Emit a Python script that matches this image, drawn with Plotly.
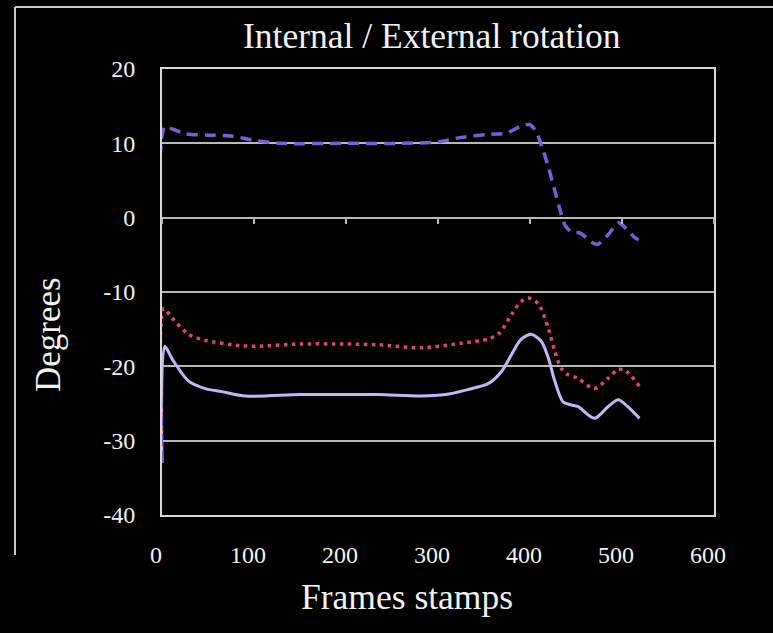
import plotly.graph_objects as go

# values (frame, degrees)
dashed_frames = [0, 3, 10, 25, 50, 75, 100, 130, 200, 260, 300, 325, 355, 375, 390, 400,
                 407, 413, 420, 427, 433, 438, 445, 455, 467, 473, 485, 496, 503, 514, 518]
dashed_deg = [-33, 12.2, 12.0, 11.3, 11.1, 11.0, 10.4, 10.0, 10.0, 10.0, 10.2, 10.8, 11.2, 11.4, 12.3, 12.5,
              11.5, 9.5, 6.8, 3.6, 0.9, -1.0, -1.9, -2.1, -3.3, -3.6, -2.3, -0.7, -1.3, -2.7, -3.0]

dotted_frames = [0, 2, 11, 29, 47, 83, 102, 150, 200, 235, 282, 325, 355, 367, 380, 390, 398,
                 409, 420, 427, 434, 441, 452, 470, 485, 496, 504, 519]
dotted_deg = [-33, -12.2, -13.5, -15.7, -16.5, -17.2, -17.3, -17.0, -17.0, -17.1, -17.5, -16.9, -16.3,
              -15.5, -13.0, -11.3, -10.8, -11.6, -14.9, -18.0, -20.3, -21.1, -21.6, -23.0, -21.6, -20.4,
              -20.6, -22.7]

solid_frames = [0, 3, 11, 29, 47, 65, 91, 150, 200, 235, 282, 308, 330, 355, 369, 380, 390, 401,
                412, 420, 427, 436, 445, 452, 470, 485, 496, 506, 519]
solid_deg = [-33, -17.3, -19.0, -22.0, -23.0, -23.4, -24.0, -23.8, -23.8, -23.8, -24.0, -23.8, -23.2,
             -22.3, -20.7, -18.4, -16.4, -15.7, -16.6, -18.9, -22.0, -24.8, -25.2, -25.4, -27.0, -25.4,
             -24.5, -25.4, -27.0]

x_ticks = [0, 100, 200, 300, 400, 500, 600]
y_ticks = [-40, -30, -20, -10, 0, 10, 20]
y_tick_text = ["-40", "-30", "-20", "-10", "0", "10", "20"]

FONT = "Liberation Serif, Times New Roman, serif"
TEXT = "#f2f2f2"
GRID = "#b8b8b8"

# plot area in pixels
L, R, T, B = 162, 714, 69, 515
pw, ph = R - L, B - T


def px(x):
    return (x - L) / pw


def py(y):
    return (B - y) / ph


fig = go.Figure()

fig.add_trace(go.Scatter(
    x=solid_frames, y=solid_deg, mode="lines",
    line=dict(color="#c4b5f0", width=3, shape="spline", smoothing=0.8),
))
fig.add_trace(go.Scatter(
    x=dotted_frames, y=dotted_deg, mode="lines",
    line=dict(color="#d9467a", width=3.5, dash="3.5px,4.5px", shape="spline", smoothing=0.8),
))
fig.add_trace(go.Scatter(
    x=dashed_frames, y=dashed_deg, mode="lines",
    line=dict(color="#7a5ed2", width=3.5, dash="11px,7px", shape="spline", smoothing=0.8),
))
# invisible trace on the overlaid axis that carries the ticks on the zero line
fig.add_trace(go.Scatter(x=[0, 600], y=[0, 0], xaxis="x2", mode="lines",
                         line=dict(width=0), hoverinfo="skip"))

fig.update_layout(
    width=773, height=633,
    paper_bgcolor="black", plot_bgcolor="black",
    showlegend=False,
    margin=dict(l=L, r=773 - R, t=T, b=633 - B),
    font=dict(family=FONT, color=TEXT),
    xaxis=dict(
        range=[0, 600], tickvals=x_ticks, showgrid=False, zeroline=False,
        showline=True, linecolor="#d8d8d8", linewidth=2, mirror=True,
        ticks="", tickfont=dict(size=24, color=TEXT),
        ticklabelstandoff=17, ticklabelshift=-6,
    ),
    xaxis2=dict(
        range=[0, 600], tickvals=x_ticks, overlaying="x", anchor="free",
        position=40 / 60, side="bottom", showgrid=False, zeroline=False,
        showline=False, ticks="outside", ticklen=5, tickwidth=1.5,
        tickcolor=GRID, showticklabels=False,
    ),
    yaxis=dict(
        range=[-40, 20], tickvals=y_ticks, ticktext=y_tick_text,
        showgrid=True, gridcolor=GRID, gridwidth=1.5, zeroline=False,
        showline=True, linecolor="#d8d8d8", linewidth=2, mirror=True,
        ticks="", tickfont=dict(size=24, color=TEXT), ticklabelstandoff=20,
    ),
    annotations=[
        dict(text="Internal / External rotation", x=px(432), y=py(36),
             xanchor="center", yanchor="middle", font=dict(size=35.5)),
        dict(text="Frames stamps", x=px(407), y=py(597),
             xanchor="center", yanchor="middle", font=dict(size=35.5)),
        dict(text="Degrees", x=px(48), y=py(335), textangle=-90,
             xanchor="center", yanchor="middle", font=dict(size=35)),
    ],
)
fig.update_annotations(xref="paper", yref="paper", showarrow=False,
                       font=dict(color=TEXT, family=FONT))

# outer chart-area border (cropped in the original)
fig.add_shape(type="line", xref="paper", yref="paper",
              x0=px(15), y0=py(7), x1=px(773), y1=py(7),
              line=dict(color="#c8c8c8", width=2))
fig.add_shape(type="line", xref="paper", yref="paper",
              x0=px(15), y0=py(7), x1=px(15), y1=py(555),
              line=dict(color="#c8c8c8", width=2))

fig.write_html("out.html", config={"displayModeBar": False},
               post_script="document.body.style.margin='0';")
